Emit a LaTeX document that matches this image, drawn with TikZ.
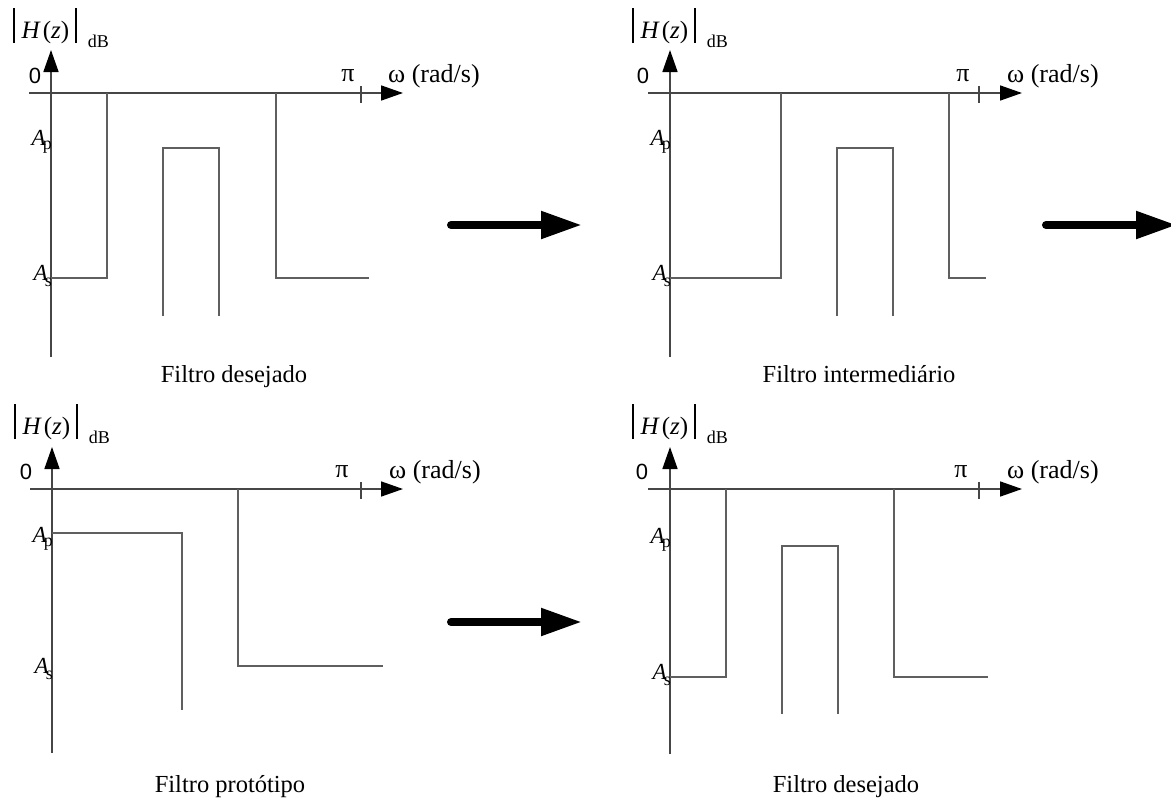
\documentclass[tikz,border=0pt]{standalone}
\usepackage{fontspec}
\setmainfont{Liberation Serif}
\newfontfamily\arialfont{Liberation Sans}
\usetikzlibrary{arrows.meta}
\definecolor{linegray}{RGB}{95,95,95}
\definecolor{axisgray}{RGB}{70,70,70}
\newcommand{\magH}{\rule[-5pt]{1.5pt}{35pt}\hspace{7pt}\textit{H}\hspace{2pt}(\textit{z})\hspace{6pt}\rule[-5pt]{1.5pt}{35pt}\hspace{11pt}\raisebox{-9pt}{\fontsize{18}{18}\selectfont dB}}
\newcommand{\Ap}{\textit{A}\hspace{-3pt}\raisebox{-4pt}{\fontsize{18}{18}\selectfont p}}
\newcommand{\As}{\textit{A}\hspace{-3pt}\raisebox{-6pt}{\fontsize{18}{18}\selectfont s}}
\tikzset{
  axisline/.style={draw=axisgray, line width=1.6pt},
  axisarrow/.style={axisline, -{Triangle[length=22pt,width=15pt,color=black]}},
  resp/.style={draw=linegray, line width=1.6pt, line join=miter},
  bigarrow/.style={draw=black, line width=8pt, line cap=round, -{Triangle[length=41pt,width=26pt]}},
  txt/.style={inner sep=0pt, font=\fontsize{24.5}{24.5}\selectfont},
  axtxt/.style={inner sep=0pt, font=\fontsize{26}{26}\selectfont},
  zerolbl/.style={inner sep=0pt, font=\arialfont\fontsize{22}{22}\selectfont},
  alab/.style={inner sep=0pt, anchor=base east, font=\fontsize{23}{23}\selectfont},
  hlab/.style={inner sep=0pt, anchor=base west, font=\fontsize{25}{25}\selectfont}
}
\begin{document}
\begin{tikzpicture}[x=1pt,y=-1pt]
\path[use as bounding box] (0,0) rectangle (1171,798);
\fill[white] (0,0) rectangle (1171,798);
\clip (0,0) rectangle (1171,798);

% ---------- Top left: Filtro desejado ----------
\begin{scope}[shift={(51,93)}]
  \draw[axisarrow] (-22,0) -- (352,0);
  \draw[axisarrow] (0,264) -- (0,-43);
  \draw[axisline] (310,-7) -- (310,10);
  \draw[resp] (0,185) -- (56,185) -- (56,0);
  \draw[resp] (112,223) -- (112,55) -- (168,55) -- (168,223);
  \draw[resp] (225,0) -- (225,185) -- (318,185);
  \node[zerolbl] (tl0) at (-16,-17) {0};
  \node[axtxt] (tlpi) at (297,-17) {π};
  \node[axtxt, anchor=west] (tlw) at (337,-17) {ω (rad/s)};
  \node[alab] (tlap) at (1,52) {\Ap};
  \node[alab] (tlas) at (1,187) {\As};
  \node[hlab] (tlh) at (-38,-55) {\magH};
  \node[txt, anchor=base] (tlcap) at (183,289) {Filtro desejado};
\end{scope}

% ---------- Top right: Filtro intermediário ----------
\begin{scope}[shift={(670,93)}]
  \draw[axisarrow] (-22,0) -- (352,0);
  \draw[axisarrow] (0,264) -- (0,-43);
  \draw[axisline] (309,-7) -- (309,10);
  \draw[resp] (0,185) -- (111,185) -- (111,0);
  \draw[resp] (167,223) -- (167,55) -- (223,55) -- (223,223);
  \draw[resp] (279,0) -- (279,185) -- (316,185);
  \node[zerolbl] (tr0) at (-27,-17) {0};
  \node[axtxt] (trpi) at (293,-17) {π};
  \node[axtxt, anchor=west] (trw) at (337,-17) {ω (rad/s)};
  \node[alab] (trap) at (1,52) {\Ap};
  \node[alab] (tras) at (1,187) {\As};
  \node[hlab] (trh) at (-38,-55) {\magH};
  \node[txt, anchor=base] (trcap) at (189,289) {Filtro intermediário};
\end{scope}

% ---------- Bottom left: Filtro protótipo ----------
\begin{scope}[shift={(52,489)}]
  \draw[axisarrow] (-22,0) -- (351,0);
  \draw[axisarrow] (0,264) -- (0,-42);
  \draw[axisline] (309,-7) -- (309,10);
  \draw[resp] (0,44) -- (130,44) -- (130,221);
  \draw[resp] (186,0) -- (186,177) -- (331,177);
  \node[zerolbl] (bl0) at (-26,-17) {0};
  \node[axtxt] (blpi) at (290,-17) {π};
  \node[axtxt, anchor=west] (blw) at (337,-17) {ω (rad/s)};
  \node[alab] (blap) at (1,53) {\Ap};
  \node[alab] (blas) at (1,184) {\As};
  \node[hlab] (blh) at (-38,-55) {\magH};
  \node[txt, anchor=base] (blcap) at (178,303) {Filtro protótipo};
\end{scope}

% ---------- Bottom right: Filtro desejado ----------
\begin{scope}[shift={(670,489)}]
  \draw[axisarrow] (-22,0) -- (352,0);
  \draw[axisarrow] (0,265) -- (0,-42);
  \draw[axisline] (309,-7) -- (309,10);
  \draw[resp] (0,188) -- (56,188) -- (56,0);
  \draw[resp] (112,225) -- (112,57) -- (168,57) -- (168,225);
  \draw[resp] (224,0) -- (224,188) -- (318,188);
  \node[zerolbl] (br0) at (-28,-17) {0};
  \node[axtxt] (brpi) at (291,-17) {π};
  \node[axtxt, anchor=west] (brw) at (337,-17) {ω (rad/s)};
  \node[alab] (brap) at (1,54) {\Ap};
  \node[alab] (bras) at (1,190) {\As};
  \node[hlab] (brh) at (-38,-55) {\magH};
  \node[txt, anchor=base] (brcap) at (176,303) {Filtro desejado};
\end{scope}

% ---------- Transition arrows ----------
\coordinate (a1s) at (451,225);
\coordinate (a1e) at (582,225);
\coordinate (a2s) at (1046,225);
\coordinate (a2e) at (1177,225);
\coordinate (a3s) at (451,622);
\coordinate (a3e) at (582,622);
\draw[bigarrow] (a1s) -- (a1e);
\draw[bigarrow] (a2s) -- (a2e);
\draw[bigarrow] (a3s) -- (a3e);
\end{tikzpicture}
\end{document}
